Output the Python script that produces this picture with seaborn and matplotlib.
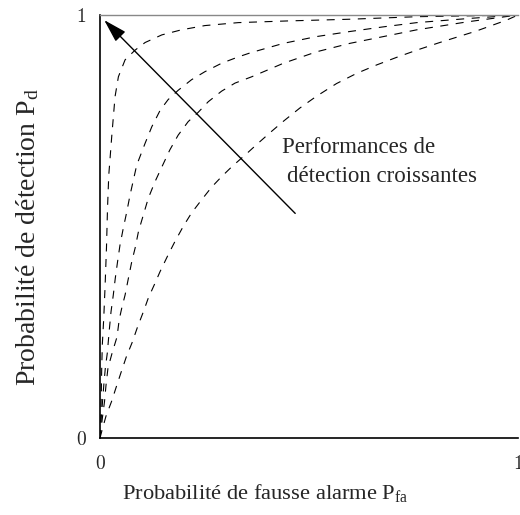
import matplotlib
matplotlib.use("Agg")
import matplotlib.pyplot as plt
import seaborn as sns
import pandas as pd

# ROC curves: false-alarm probability vs detection probability
pfa_1 = [0, 0.002, 0.003, 0.004, 0.0055, 0.009, 0.012, 0.0155, 0.018, 0.021, 0.024, 0.028,
         0.036, 0.044, 0.060, 0.084, 0.108, 0.148, 0.195, 0.251, 0.331, 0.45, 0.598, 0.758,
         0.88, 1.0]
pd_1 = [0, 0.05, 0.10, 0.16, 0.22, 0.284, 0.355, 0.45, 0.544, 0.622, 0.66, 0.712,
        0.807, 0.854, 0.894, 0.917, 0.935, 0.953, 0.965, 0.975, 0.982, 0.986, 0.990, 0.996,
        0.998, 1.0]

pfa_2 = [0, 0.0031, 0.006, 0.0091, 0.0127, 0.0175, 0.0222, 0.0263, 0.0318, 0.0366, 0.0419,
         0.0478, 0.0557, 0.0639, 0.0718, 0.0878, 0.108, 0.124, 0.144, 0.163, 0.187, 0.219,
         0.251, 0.291, 0.331, 0.361, 0.439, 0.518, 0.598, 0.678, 0.758, 0.885, 1.0]
pd_2 = [0, 0.050, 0.085, 0.125, 0.165, 0.201, 0.255, 0.298, 0.338, 0.378, 0.416,
        0.456, 0.496, 0.534, 0.574, 0.645, 0.697, 0.736, 0.775, 0.800, 0.822, 0.847,
        0.866, 0.886, 0.901, 0.911, 0.933, 0.949, 0.961, 0.972, 0.982, 0.992, 1.0]

pfa_3 = [0, 0.006, 0.0108, 0.0144, 0.019, 0.029, 0.0407, 0.046, 0.052, 0.060, 0.068, 0.076,
         0.084, 0.092, 0.1036, 0.1156, 0.1316, 0.149, 0.167, 0.187, 0.211, 0.235, 0.259,
         0.291, 0.323, 0.363, 0.439, 0.518, 0.598, 0.678, 0.758, 0.88, 1.0]
pd_3 = [0, 0.050, 0.086, 0.125, 0.165, 0.201, 0.239, 0.28, 0.307, 0.338, 0.378, 0.417,
        0.449, 0.488, 0.527, 0.567, 0.606, 0.643, 0.681, 0.716, 0.748, 0.770, 0.795,
        0.820, 0.839, 0.854, 0.886, 0.913, 0.933, 0.949, 0.965, 0.984, 1.0]

pfa_4 = [0, 0.004, 0.0144, 0.0275, 0.039, 0.050, 0.063, 0.0766, 0.090, 0.104, 0.1156, 0.1316,
         0.1435, 0.163, 0.179, 0.199, 0.219, 0.243, 0.267, 0.291, 0.315, 0.355, 0.375, 0.407,
         0.439, 0.478, 0.518, 0.566, 0.614, 0.662, 0.710, 0.758, 0.813, 0.90, 0.973, 1.0]
pd_4 = [0, 0.015, 0.052, 0.086, 0.121, 0.154, 0.192, 0.225, 0.263, 0.299, 0.331, 0.366,
        0.393, 0.433, 0.464, 0.500, 0.532, 0.563, 0.593, 0.618, 0.641, 0.676, 0.694, 0.722,
        0.749, 0.780, 0.808, 0.838, 0.862, 0.882, 0.900, 0.917, 0.935, 0.962, 0.988, 1.0]

curves = [(pfa_1, pd_1), (pfa_2, pd_2), (pfa_3, pd_3), (pfa_4, pd_4)]

tick_values = [0, 1]
tick_labels = ["0", "1"]

arrow_tail = (0.467, 0.531)
arrow_tip = (0.010, 0.988)

sns.set_style("white")
plt.rcParams["font.family"] = ["Liberation Serif", "DejaVu Serif"]
plt.rcParams["mathtext.fontset"] = "custom"
plt.rcParams["mathtext.rm"] = "Liberation Serif"
plt.rcParams["mathtext.it"] = "Liberation Serif:italic"
plt.rcParams["mathtext.bf"] = "Liberation Serif:bold"

fig = plt.figure(figsize=(5.2, 5.15), dpi=100)
ax = fig.add_axes([100 / 520, 77 / 515, 418 / 520, 423 / 515])

frames = []
for i, (xs, ys) in enumerate(curves):
    frames.append(pd.DataFrame({"pfa": xs, "pd": ys, "curve": i}))
data = pd.concat(frames, ignore_index=True)

for i, grp in data.groupby("curve"):
    sns.lineplot(data=grp, x="pfa", y="pd", ax=ax, color="black", lw=0.8,
                 estimator=None, sort=False, linestyle=(0, (7.2, 6.8)))

ax.annotate("", xy=arrow_tip, xytext=arrow_tail,
            arrowprops=dict(arrowstyle="-|>,head_length=1.2,head_width=0.35",
                            color="black", lw=1.0, mutation_scale=12,
                            shrinkA=0, shrinkB=0))

ax.text(0.435, 0.674, "Performances de", fontsize=16.5, va="baseline", ha="left")
ax.text(0.447, 0.605, "détection croissantes", fontsize=16.5, va="baseline", ha="left")

ax.set_xlim(0, 1)
ax.set_ylim(0, 1)
ax.set_xticks(tick_values)
ax.set_xticklabels(tick_labels)
ax.set_yticks(tick_values)
ax.set_yticklabels(tick_labels)
ax.tick_params(axis="both", length=0, labelsize=14)
ax.tick_params(axis="x", pad=12)
ax.tick_params(axis="y", pad=10)
for lbl in ax.get_xticklabels() + ax.get_yticklabels():
    lbl.set_fontfamily(["cmr10", "Liberation Serif"])

ax.set_xlabel(r"Probabilité de fausse alarme $\mathrm{P_{fa}}$", fontsize=16.2)
ax.set_ylabel(r"Probabilité de détection $\mathrm{P_{d}}$", fontsize=20)
ax.xaxis.set_label_coords(0.395, -0.104)
ax.yaxis.set_label_coords(-0.14, 0.476)

for side in ["left", "bottom"]:
    ax.spines[side].set_color("black")
    ax.spines[side].set_linewidth(1.2)
ax.spines["top"].set_color("#888888")
ax.spines["top"].set_linewidth(1.0)
ax.spines["right"].set_visible(False)

ax.grid(False)
fig.savefig("out.png", dpi=100, facecolor="white")
